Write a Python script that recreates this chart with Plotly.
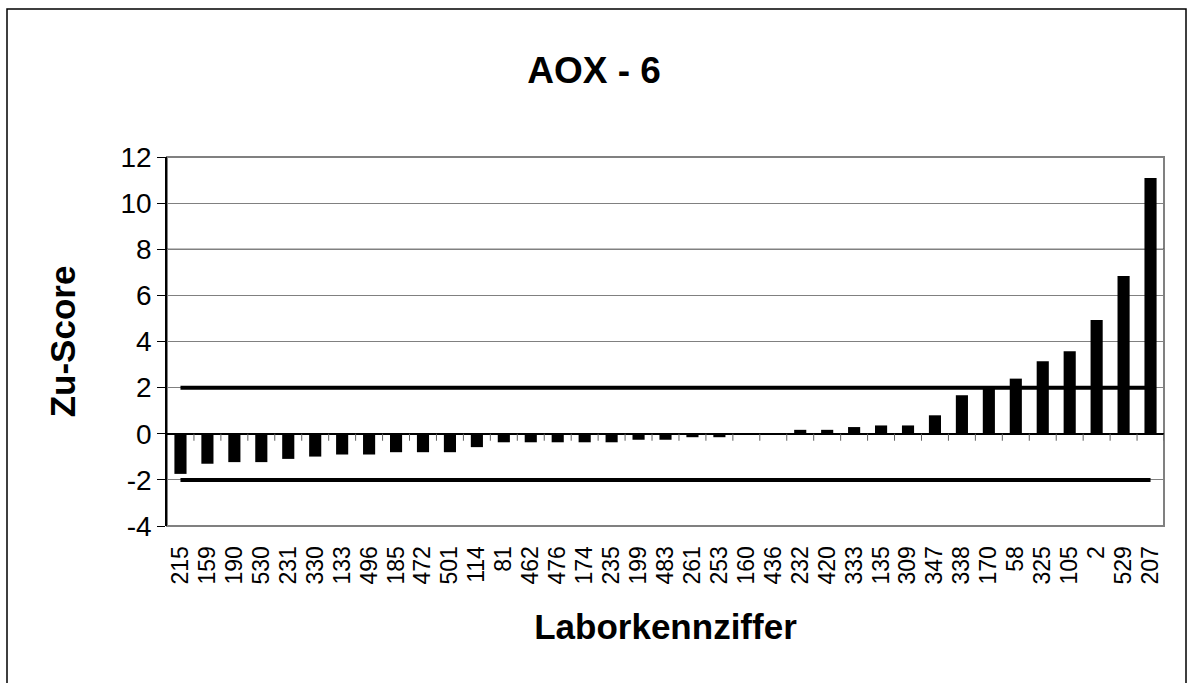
import plotly.graph_objects as go

labs = ["215", "159", "190", "530", "231", "330", "133", "496", "185", "472", "501", "114",
        "81", "462", "476", "174", "235", "199", "483", "261", "253", "160", "436", "232",
        "420", "333", "135", "309", "347", "338", "170", "58", "325", "105", "2", "529", "207"]
zu_score = [-1.74, -1.30, -1.23, -1.23, -1.09, -0.99, -0.90, -0.90, -0.80, -0.80, -0.80, -0.58,
            -0.37, -0.37, -0.37, -0.37, -0.37, -0.26, -0.26, -0.15, -0.15, 0.0, 0.0, 0.17,
            0.17, 0.29, 0.36, 0.36, 0.80, 1.67, 2.05, 2.39, 3.14, 3.58, 4.93, 6.84, 11.09]
limit_upper = 2
limit_lower = -2
y_ticks = [-4, -2, 0, 2, 4, 6, 8, 10, 12]
y_ticktext = ["-4", "-2", "0", "2", "4", "6", "8", "10", "12"]

W, H = 1188, 683
L, R, T, B = 167, 24, 157, 157
pw, ph = W - L - R, H - T - B

FONT = "Liberation Sans, Arial, sans-serif"

fig = go.Figure()
fig.add_trace(go.Bar(x=labs, y=zu_score, marker=dict(color="black", line=dict(width=0)),
                     width=0.45, showlegend=False))
for lim in (limit_upper, limit_lower):
    fig.add_trace(go.Scatter(x=[labs[0], labs[-1]], y=[lim, lim], mode="lines",
                             line=dict(color="black", width=4), showlegend=False))

shapes = []
# plot frame (gray)
shapes.append(dict(type="rect", xref="paper", yref="paper", x0=0, x1=1, y0=0, y1=1,
                   line=dict(color="#808080", width=2), layer="below"))
# darker gridline at 8 as in the reference
shapes.append(dict(type="line", xref="paper", yref="y", x0=0, x1=1, y0=8, y1=8,
                   line=dict(color="black", width=1), layer="below"))
# category separator ticks along the zero line
for i in range(1, len(labs) + 1):
    shapes.append(dict(type="line", xref="x", yref="y", x0=i - 0.5, x1=i - 0.5,
                       ysizemode="pixel", yanchor=0, y0=0, y1=-7,
                       line=dict(color="#606060", width=1)))
# outer border of the chart
shapes.append(dict(type="rect", xref="paper", yref="paper",
                   x0=(7 - L) / pw, x1=(1186 - L) / pw,
                   y0=-1, y1=1 + (T - 9) / ph,
                   line=dict(color="black", width=1.5)))

fig.update_layout(
    width=W, height=H,
    margin=dict(l=L, r=R, t=T, b=B),
    paper_bgcolor="white", plot_bgcolor="white",
    font=dict(family=FONT, color="black"),
    title=dict(text="<b>AOX - 6</b>", x=0.5, xanchor="center", y=1 - 70 / H, yanchor="middle",
               font=dict(size=37, family=FONT)),
    shapes=shapes,
    xaxis=dict(type="category", categoryorder="array", categoryarray=labs,
               tickmode="array", tickvals=labs, ticktext=labs,
               showgrid=False, showline=False, ticks="outside", ticklen=10,
               tickcolor="rgba(0,0,0,0)", tickangle=-90,
               tickfont=dict(size=23, family=FONT),
               title=dict(text="<b>Laborkennziffer</b>", font=dict(size=35, family=FONT), standoff=30),
               range=[-0.5, len(labs) - 0.5]),
    yaxis=dict(range=[-4, 12], tickvals=y_ticks, ticktext=y_ticktext,
               showgrid=True, gridcolor="#808080", gridwidth=1,
               zeroline=True, zerolinecolor="black", zerolinewidth=1.5,
               showline=True, linecolor="black", linewidth=1.5,
               ticks="outside", ticklen=8, tickcolor="black",
               tickfont=dict(size=28, family=FONT),
               title=dict(text="<b>Zu-Score</b>", font=dict(size=35, family=FONT), standoff=34)),
)

fig.write_html("out.html", config={"displayModeBar": False},
               post_script="document.body.style.margin='0';document.body.style.overflow='hidden';")
